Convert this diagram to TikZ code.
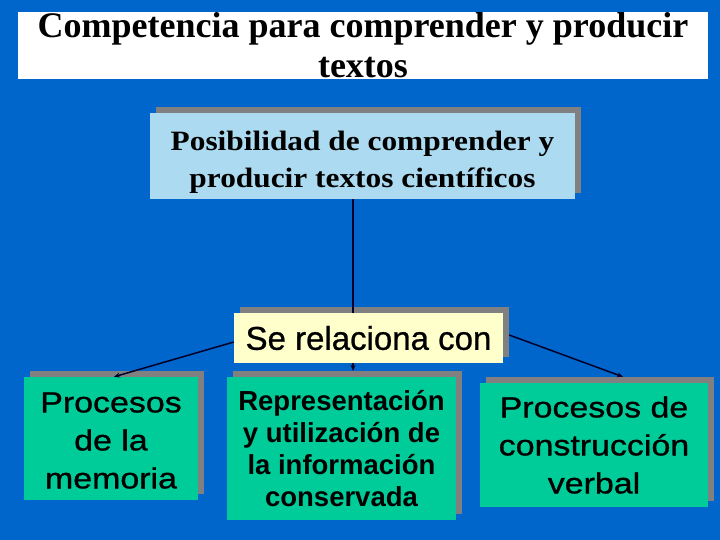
\documentclass[tikz,border=0pt]{standalone}
\usepackage{fontspec}
\setmainfont{Liberation Serif}
\setsansfont{Liberation Sans}
\newfontfamily\widesans{Liberation Sans}[FakeStretch=1.17,FakeBold=1]
\newfontfamily\heavysans{Liberation Sans}[FakeBold=0.8]
\newfontfamily\wideserif{Liberation Serif}[FakeStretch=1.12]
\usepackage{tikz}
\usetikzlibrary{arrows.meta,shadows}
\definecolor{slideblue}{RGB}{0,102,204}
\definecolor{paleblue}{RGB}{172,218,240}
\definecolor{paleyellow}{RGB}{255,255,204}
\definecolor{boxgreen}{RGB}{0,204,153}
\definecolor{shadowgray}{RGB}{128,128,128}
\definecolor{linkcolor}{RGB}{0,0,40}

\begin{document}
\begin{tikzpicture}[x=1pt,y=-1pt,
  box/.style={inner sep=0pt, align=center,
    general shadow={fill=shadowgray, shadow xshift=6pt, shadow yshift=6pt}},
  link/.style={line width=1.5pt, draw=linkcolor},
  tip/.style={-{Stealth[length=6pt,width=5pt]}}]
\fill[slideblue](0,0) rectangle (720,540);
%
\node[fill=white, inner sep=0pt, align=center, minimum width=690pt, minimum height=67pt,
  font=\bfseries\fontsize{36}{40}\selectfont] (title) at (363,45.5)
  {Competencia para comprender y producir\\textos};
%
\node[box, fill=paleblue, minimum width=425pt, minimum height=86pt,
  font=\wideserif\bfseries\fontsize{28}{37}\selectfont] (posib) at (362.5,156)
  {\rule{0pt}{31pt}Posibilidad de comprender y\\producir textos científicos};
\node[box, fill=paleyellow, minimum width=269pt, minimum height=50pt,
  font=\heavysans\fontsize{33}{38}\selectfont] (relac) at (368.5,338) {Se relaciona con};
%
\node[box, fill=boxgreen, minimum width=174pt, minimum height=123pt,
  font=\widesans\fontsize{29}{38}\selectfont] (memoria) at (111,438.5)
  {\rule{0pt}{24pt}Procesos\\de la\\memoria};
\node[box, fill=boxgreen, minimum width=229pt, minimum height=143pt,
  font=\sffamily\bfseries\fontsize{27.5}{32}\selectfont] (repres) at (341.5,448.5)
  {Representación\\y utilización de\\la información\\conservada};
\node[box, fill=boxgreen, minimum width=228pt, minimum height=124pt,
  font=\widesans\fontsize{29}{38}\selectfont] (verbal) at (594,445)
  {Procesos de\\construcción\\verbal};
%
\coordinate (stem) at (353,0);
\draw[link] (stem |- posib.south) -- (stem |- relac.north);
\draw[link,tip] (stem |- relac.south) -- ([yshift=6pt]stem |- repres.north);
\draw[link,tip] ([yshift=-4pt]relac.west) -- ([xshift=3pt]memoria.north);
\draw[link,tip] ([xshift=6pt,yshift=3pt]relac.east) -- ([xshift=29pt,yshift=6pt]verbal.north);
\end{tikzpicture}
\end{document}
